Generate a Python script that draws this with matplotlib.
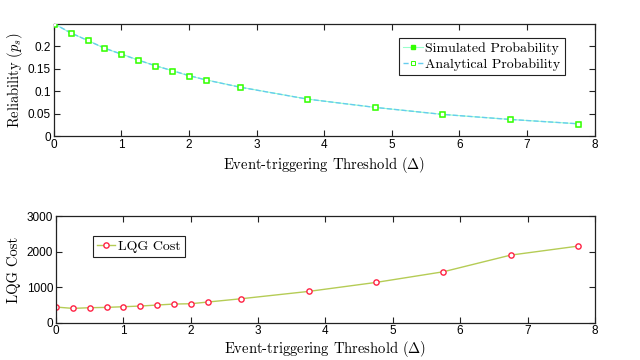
import matplotlib
matplotlib.use("Agg")
import matplotlib.pyplot as plt

thresholds = [0, 0.25, 0.5, 0.75, 1, 1.25, 1.5, 1.75, 2, 2.25, 2.75, 3.75, 4.75, 5.75, 6.75, 7.75]
simulated = [0.25, 0.229, 0.213, 0.195, 0.1825, 0.169, 0.1565, 0.1454, 0.134, 0.125, 0.109, 0.0823, 0.0638, 0.0482, 0.037, 0.0274]
analytical = [0.25, 0.2295, 0.2125, 0.1955, 0.182, 0.1688, 0.1565, 0.1455, 0.1345, 0.1248, 0.1088, 0.0822, 0.0638, 0.0482, 0.0370, 0.0274]
lqg_cost = [441, 403, 422, 431, 450, 469, 497, 525, 534, 581, 675, 881, 1134, 1434, 1903, 2156]

plt.rcParams['mathtext.fontset'] = 'cm'
plt.rcParams['axes.unicode_minus'] = False
tick_font = 'Liberation Sans'
serif = 'cmr10'

fig = plt.figure(figsize=(6.4, 3.6), dpi=100)
ax1 = fig.add_axes([0.084, 0.622, 0.845, 0.3125])
ax2 = fig.add_axes([0.0875, 0.1036, 0.842, 0.296])

ax1.plot(thresholds, simulated, '-', color='#99ffcc', lw=0.8, marker='s', ms=3.5,
         mfc='#33ff00', mec='#33ff00', label='Simulated Probability', zorder=2)
ax1.plot(thresholds, analytical, '--', color='#66ccee', lw=1.0, marker='s', ms=2.2,
         mfc='white', mec='#33ff00', mew=0.7, label='Analytical Probability', zorder=3)
# hollow look of simulated markers in the plot
ax1.plot(thresholds, simulated, 's', ms=3.6, mfc='white', mec='#33ff00', mew=1.1, zorder=4)

ax1.set_xlim(0, 8)
ax1.set_ylim(0, 0.25)
ax1.set_yticks([0, 0.05, 0.1, 0.15, 0.2])
ax1.set_yticklabels(['0', '0.05', '0.1', '0.15', '0.2'])
ax1.set_xticks(range(0, 9))
ax1.set_xlabel(r'Event-triggering Threshold ($\Delta$)', family=serif, fontsize=10.5, labelpad=3)
ax1.set_ylabel(r'Reliability ($p_s$)', family=serif, fontsize=10.5, labelpad=2)
leg1 = ax1.legend(loc='upper right', bbox_to_anchor=(0.945, 0.874), prop={'family': serif, 'size': 10},
                  fancybox=False, edgecolor='#222222', framealpha=1, handlelength=1.4,
                  handletextpad=0.2, borderpad=0.3, labelspacing=0.25, borderaxespad=0)
leg1.get_frame().set_linewidth(0.8)

ax2.plot(thresholds, lqg_cost, '-', color='#b5cc55', lw=1.0, marker='o', ms=3.8,
         mfc='white', mec='#ff2244', mew=1.0, label='LQG Cost')
ax2.set_xlim(0, 8)
ax2.set_ylim(0, 3000)
ax2.set_yticks([0, 1000, 2000, 3000])
ax2.set_xticks(range(0, 9))
ax2.set_xlabel(r'Event-triggering Threshold ($\Delta$)', family=serif, fontsize=10.5, labelpad=1)
ax2.set_ylabel('LQG Cost', family=serif, fontsize=10.5, labelpad=4)
leg2 = ax2.legend(loc='upper left', bbox_to_anchor=(0.069, 0.813), prop={'family': serif, 'size': 10},
                  fancybox=False, edgecolor='#222222', framealpha=1, handlelength=1.3,
                  handletextpad=0.2, borderpad=0.3, borderaxespad=0)
leg2.get_frame().set_linewidth(0.8)

for ax in (ax1, ax2):
    ax.tick_params(direction='in', top=True, right=True, length=4, width=0.8,
                   labelsize=8.5, pad=2, colors='#222222')
    for lab in ax.get_xticklabels() + ax.get_yticklabels():
        lab.set_family(tick_font)
        lab.set_color('black')
    for s in ax.spines.values():
        s.set_linewidth(0.9)
        s.set_color('#222222')

fig.savefig('out.png', dpi=100)
